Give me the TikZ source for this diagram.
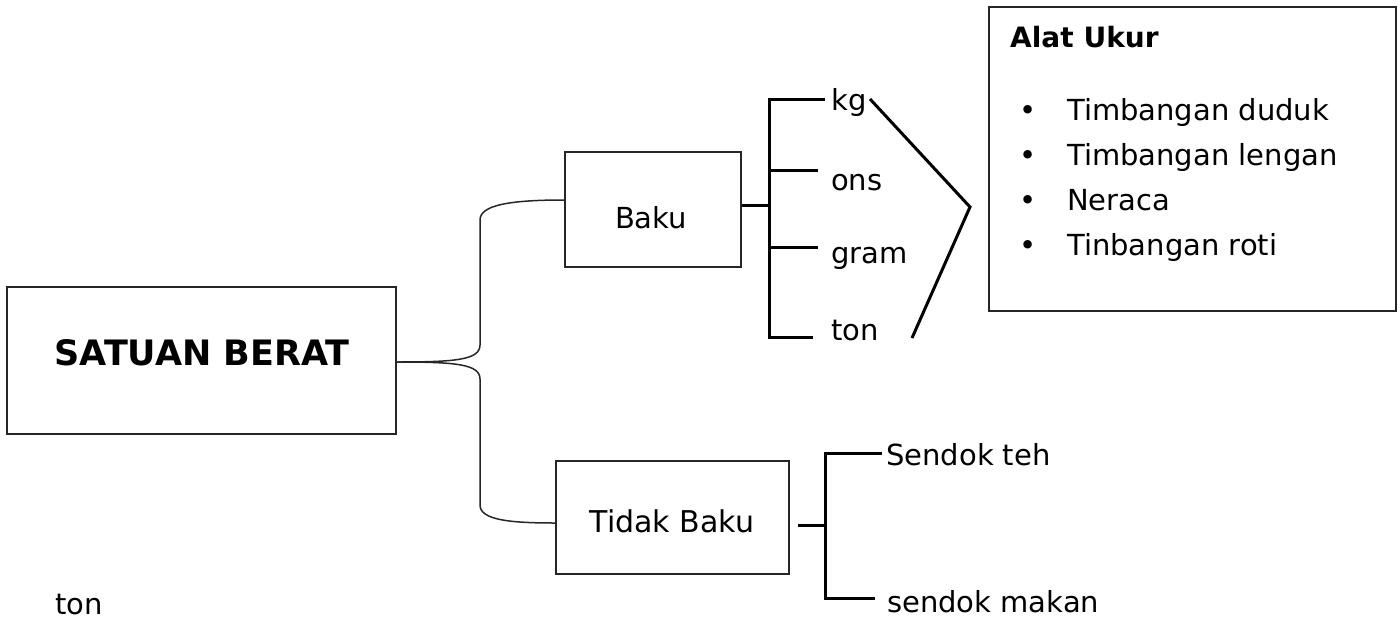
\documentclass[tikz,border=0pt]{standalone}
\usepackage{fontspec}
\setmainfont{DejaVu Sans}
\begin{document}
\begin{tikzpicture}[x=1pt,y=-1pt,
  box/.style={draw=black!85,line width=1.6pt,inner sep=0pt},
  lbl/.style={font=\fontsize{29}{32}\selectfont,inner sep=0pt},
  blbl/.style={font=\fontsize{35}{40}\selectfont\bfseries,inner sep=0pt},
  thin/.style={line width=1.5pt,draw=black!85},
  thick/.style={line width=3pt,draw=black},
  ]
\useasboundingbox (0,0) rectangle (1400,624);
% boxes
\node[box,minimum width=389pt,minimum height=147pt] (sb) at (201.5,360.5) {};
\node[blbl] (sbt) at (202,353) {SATUAN BERAT};
\node[box,minimum width=176pt,minimum height=115pt] (baku) at (653,209.5) {};
\node[lbl] (bakut) at (651,218) {Baku};
\node[box,minimum width=233pt,minimum height=113pt] (tb) at (672.5,517.5) {};
\node[lbl,font=\fontsize{30}{33}\selectfont] (tbt) at (672,521) {Tidak Baku};
\node[box,minimum width=407pt,minimum height=304pt] (au) at (1192.5,159) {};
\node[font=\fontsize{28}{31}\selectfont\bfseries,inner sep=0pt,anchor=base west] (aut) at (1010,47) {Alat Ukur};
\foreach \i/\t/\y in {1/Timbangan duduk/120,2/Timbangan lengan/165,3/Neraca/210,4/Tinbangan roti/255}{
  \node[lbl,anchor=base] (b\i) at (1028,\y) {•};
  \node[lbl,anchor=base west] (it\i) at (1067,\y) {\t};
}
% units
\node[lbl,anchor=base west] (kg) at (831,110) {kg};
\node[lbl,anchor=base west] (ons) at (831,190) {ons};
\node[lbl,anchor=base west] (gram) at (831,263) {gram};
\node[lbl,anchor=base west] (ton) at (831,340) {ton};
\node[lbl,anchor=base west] (st) at (886,465) {Sendok teh};
\node[lbl,anchor=base west] (sm) at (887,612) {sendok makan};
\node[lbl,anchor=base west] (ton2) at (55,614) {ton};
% coordinates
\coordinate (sbr) at (sb.east |- 0,362);
\coordinate (bkl) at (baku.west |- 0,200);
\coordinate (tbl) at (tb.west |- 0,523);
\coordinate (bkr) at (baku.east |- 0,205);
\coordinate (bv) at (769,205);
\coordinate (bt) at (769,99);
\coordinate (bb) at (769,337);
\coordinate (kge) at (825,99);
\coordinate (onse) at (818,170);
\coordinate (grame) at (818,247);
\coordinate (tone) at (813,337);
\coordinate (a1) at (870,99);
\coordinate (a2) at (970,207);
\coordinate (a3) at (912,338);
\coordinate (tbs) at (798,525);
\coordinate (tv) at (825,525);
\coordinate (tt) at (825,453);
\coordinate (tbb) at (825,598);
\coordinate (ste) at (882,453);
\coordinate (sme) at (875,598);
% curves
\draw[thin] (sbr) .. controls (455,362) and (480,360) .. (480,345) -- (480,220)
  .. controls (480,205) and (510,200) .. (bkl);
\draw[thin] (sbr) .. controls (455,362) and (480,364) .. (480,379) -- (480,505)
  .. controls (480,520) and (510,523) .. (tbl);
% Baku bracket
\draw[thick] (bkr) -- (bv);
\draw[thick] (kge) -- (bt) -- (bb) -- (tone);
\draw[thick] (769,170) -- (onse);
\draw[thick] (769,247) -- (grame);
\draw[thick,line join=miter] (a1) -- (a2) -- (a3);
% Tidak Baku bracket
\draw[thick] (tbs) -- (tv);
\draw[thick] (ste) -- (tt) -- (tbb) -- (sme);
\end{tikzpicture}
\end{document}
